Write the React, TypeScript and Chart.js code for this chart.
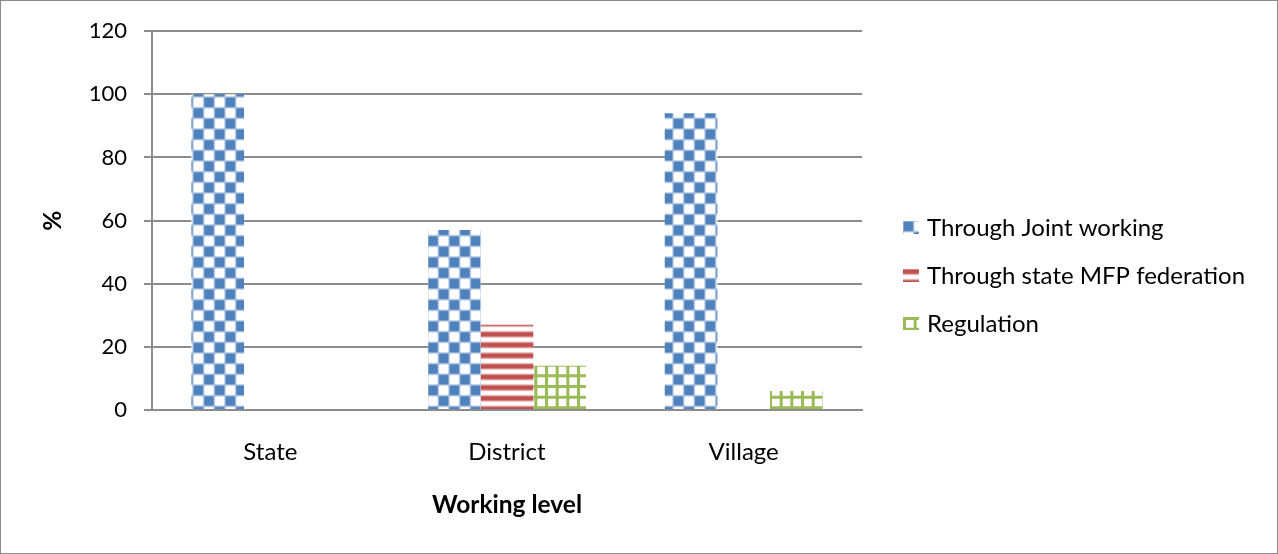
import React, { useEffect, useRef } from "react";
import { Chart, registerables } from "chart.js";

Chart.register(...registerables);

// Categories and series values (percent)
const categories = ["State", "District", "Village"];
const seriesNames = ["Through Joint working", "Through state MFP federation", "Regulation"];
const jointWorking = [100, 57, 94];
const stateFederation = [0, 27, 0];
const regulation = [0, 14, 6];

// Value axis
const yMin = 0;
const yMax = 120;
const yStep = 20;

const xTitle = "Working level";
const yTitle = "%";

const FONT = "Lato, 'Liberation Sans', sans-serif";
const GRID = "#8c8c8c";

type Painter = (g: CanvasRenderingContext2D) => void;

// Builds a repeating fill from a small tile, optionally scaled up with smoothing
function makePattern(ctx: CanvasRenderingContext2D, size: number, scale: number, paint: Painter) {
  const tile = document.createElement("canvas");
  tile.width = size;
  tile.height = size;
  const g = tile.getContext("2d")!;
  g.fillStyle = "#ffffff";
  g.fillRect(0, 0, size, size);
  paint(g);
  const p = ctx.createPattern(tile, "repeat")!;
  if (scale !== 1) p.setTransform(new DOMMatrix([scale, 0, 0, scale, 0, 0]));
  return p;
}

// Legend drawn at the right of the plot with pattern swatches
const sideLegend = {
  id: "sideLegend",
  afterDraw(chart: any) {
    const { ctx, chartArea } = chart;
    const boxX = chartArea.right + 41;
    const textX = chartArea.right + 65;
    const firstY = 227;
    const gap = 48;
    ctx.save();
    ctx.font = `24px ${FONT}`;
    ctx.textBaseline = "middle";
    ctx.textAlign = "left";
    chart.data.datasets.forEach((ds: any, i: number) => {
      const cy = firstY + i * gap;
      ctx.save();
      ctx.translate(boxX, cy - 7);
      ctx.fillStyle = ds.backgroundColor;
      ctx.fillRect(0, 0, 16, 13);
      ctx.restore();
      ctx.fillStyle = "#000";
      ctx.fillText(ds.label, textX, cy);
    });
    ctx.restore();
  },
};

export default function App() {
  const canvasRef = useRef<HTMLCanvasElement | null>(null);

  useEffect(() => {
    const canvas = canvasRef.current;
    if (!canvas) return;
    const ctx = canvas.getContext("2d")!;

    const blue = "#4F81BD";
    const red = "#C0504D";
    const green = "#9BBB59";

    const checker = makePattern(ctx, 8, 8 / 3, (g) => {
      g.fillStyle = blue;
      g.fillRect(0, 0, 4, 4);
      g.fillRect(4, 4, 4, 4);
    });
    const stripes = makePattern(ctx, 4, 8 / 3, (g) => {
      g.fillStyle = red;
      g.fillRect(0, 0, 4, 2);
    });
    // 32px tile holding three grid cells of 32/3 px each
    const grid = makePattern(ctx, 32, 1, (g) => {
      const step = 32 / 3;
      g.strokeStyle = green;
      g.lineWidth = 3;
      for (let k = 0; k < 3; k++) {
        const p = k * step + 1.5;
        g.beginPath();
        g.moveTo(0, p);
        g.lineTo(32, p);
        g.moveTo(p, 0);
        g.lineTo(p, 32);
        g.stroke();
      }
    });

    const tickFont = { family: FONT, size: 22 };
    const labelFont = { family: FONT, size: 24 };
    const titleFont = { family: FONT, size: 24.5, weight: "bold" as const };

    const chart = new Chart(canvas, {
      type: "bar",
      data: {
        labels: categories,
        datasets: [
          { label: seriesNames[0], data: jointWorking, backgroundColor: checker as any },
          { label: seriesNames[1], data: stateFederation, backgroundColor: stripes as any },
          { label: seriesNames[2], data: regulation, backgroundColor: grid as any },
        ],
      },
      options: {
        responsive: false,
        animation: false,
        devicePixelRatio: 1,
        layout: { padding: { left: 10, right: 415, top: 28, bottom: 0 } },
        datasets: {
          bar: { categoryPercentage: 0.667, barPercentage: 1, borderWidth: 0 },
        },
        plugins: {
          legend: { display: false },
          tooltip: { enabled: false },
        },
        scales: {
          x: {
            grid: { display: false, drawTicks: false },
            border: { display: true, color: GRID, width: 2 },
            ticks: { font: labelFont, color: "#000", padding: 28 },
            title: {
              display: true,
              text: xTitle,
              font: titleFont,
              color: "#000",
              padding: { top: 0, bottom: 33 },
            },
            afterFit: (s: any) => {
              s.height = 143;
            },
          },
          y: {
            min: yMin,
            max: yMax,
            ticks: { stepSize: yStep, font: tickFont, color: "#000", padding: 17 },
            grid: { color: GRID, lineWidth: 2, drawTicks: true, tickLength: 8 },
            border: { display: true, color: GRID, width: 2 },
            title: {
              display: true,
              text: yTitle,
              font: titleFont,
              color: "#000",
              padding: { top: 27, bottom: 0 },
            },
            afterFit: (s: any) => {
              s.width = 141;
            },
          },
        },
      },
      plugins: [sideLegend],
    });

    return () => chart.destroy();
  }, []);

  return (
    <div
      style={{
        position: "absolute",
        left: 0,
        top: 0,
        width: 1278,
        height: 554,
        boxSizing: "border-box",
        border: "1px solid #8a8a8a",
        background: "#fff",
      }}
    >
      <canvas ref={canvasRef} width={1276} height={552} style={{ display: "block" }} />
    </div>
  );
}
